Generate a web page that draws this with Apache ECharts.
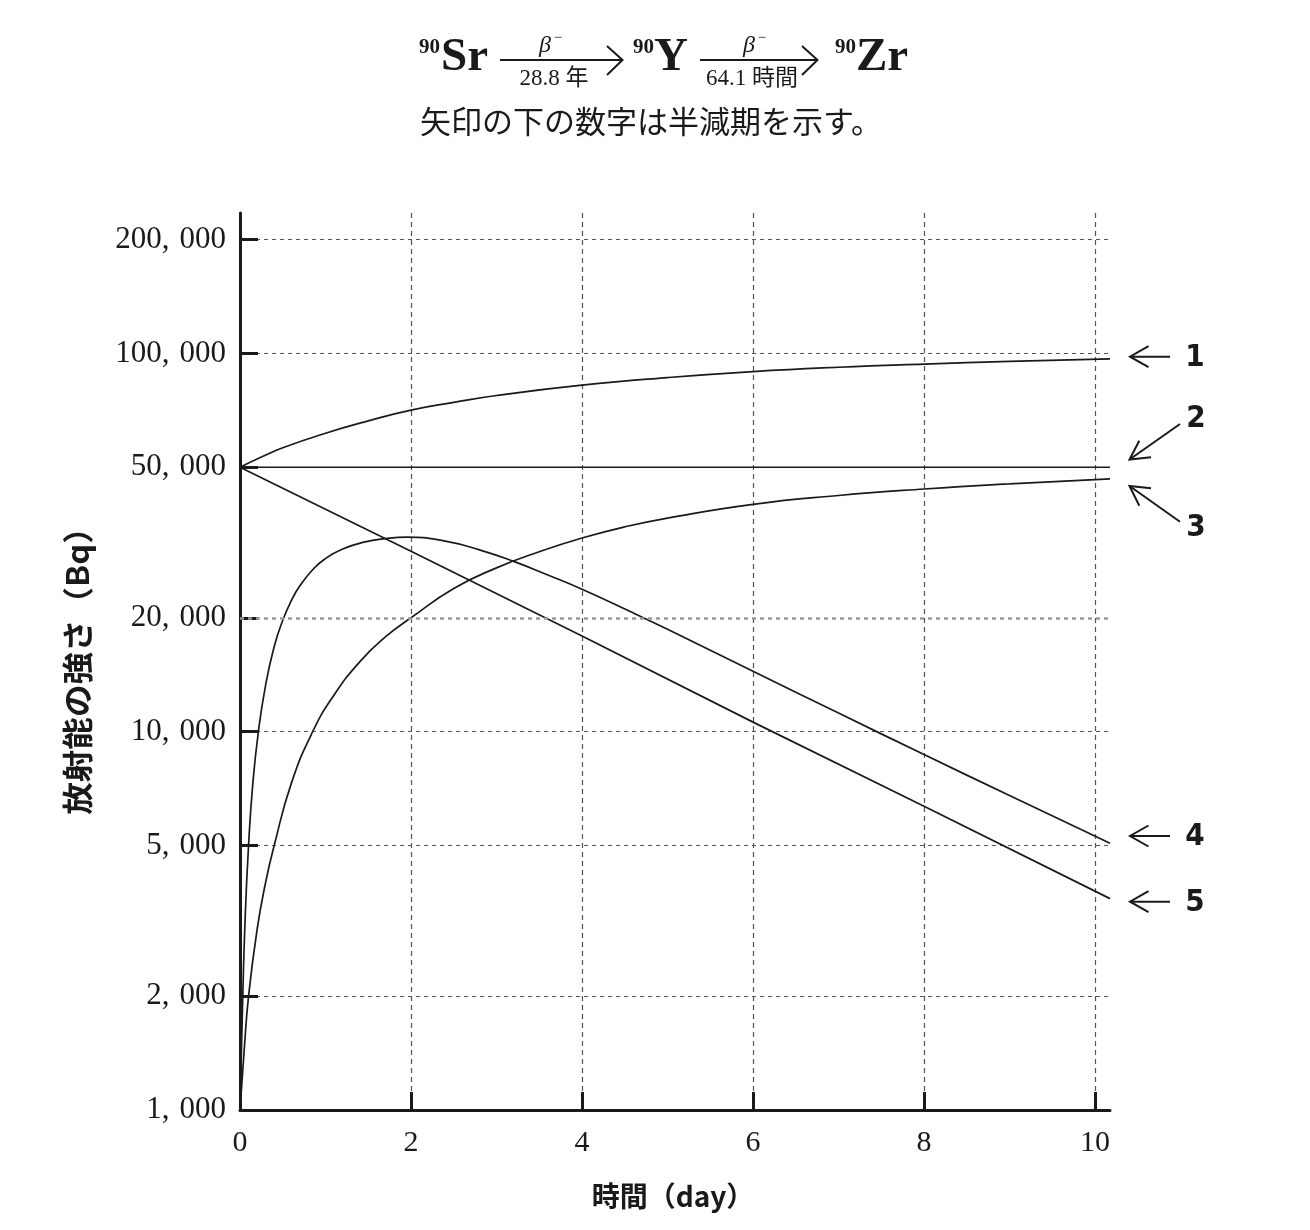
<!DOCTYPE html>
<html><head><meta charset="utf-8">
<script src="https://cdn.jsdelivr.net/npm/echarts@6/dist/echarts.min.js"></script>
<style>html,body{margin:0;padding:0;background:#fff}#c{width:1310px;height:1230px}</style>
</head><body><div id="c"></div>
<script>
// ---- data ----
const yTickValues = [1000, 2000, 5000, 10000, 20000, 50000, 100000, 200000];
const yTickLabels = ['1,000', '2,000', '5,000', '10,000', '20,000', '50,000', '100,000', '200,000'];
const xLabelValues = [0, 2, 4, 6, 8, 10];
const xTickValues = [2, 4, 6, 8, 10];

// curve 1 (rising toward 100,000)
const days1 = [0, 0.25, 0.5, 1, 1.5, 2, 2.5, 3, 4, 5, 6, 7, 8, 9, 10.175];
const curve1 = [50000, 53200, 56300, 61500, 66300, 70800, 74200, 77400, 82400, 86300, 89500, 91900, 93700, 95200, 96700];
// curve 2 (flat 50,000)
const days2 = [0, 10.175];
const curve2 = [50000, 50000];
// curve 3 (ingrowth toward 50,000)
const days3 = [0, 0.05, 0.1, 0.2, 0.3, 0.4, 0.6, 0.85, 1.1, 1.4, 1.7, 2.0, 2.5, 3.0, 3.5, 4.0, 4.5, 5.0, 6.0, 7.0, 8.0, 9.0, 10.175];
const curve3 = [1000, 1450, 2000, 3000, 4000, 5000, 7300, 10000, 12500, 15300, 17800, 20000, 23900, 27100, 29900, 32500, 34800, 36700, 39900, 42100, 43800, 45200, 46600];
// curve 4 (hump)
const days4 = [0, 0.03, 0.06, 0.1, 0.15, 0.215, 0.3, 0.4, 0.5, 0.6, 0.7, 0.85, 1.0, 1.2, 1.45, 1.7, 1.95, 2.4, 2.8, 3.2, 3.6, 4.0, 4.57, 5.0, 6.0, 7.0, 8.0, 9.0, 10.175];
const curve4 = [1000, 1900, 3200, 5000, 7300, 10000, 13300, 16800, 19700, 22200, 24300, 26800, 28700, 30400, 31700, 32400, 32700, 31900, 30250, 28200, 25950, 23800, 20750, 18650, 14450, 11200, 8700, 6780, 5070];
// curve 5 (straight decay)
const days5 = [0, 2, 4, 6, 8, 10.175];
const curve5 = [50000, 30000, 17900, 10600, 6350, 3620];

const curveLabels = ['1', '2', '3', '4', '5'];

function zip(xs, ys) { return xs.map((x, i) => [x, ys[i]]); }

const INK = '#1a1a1a';
const SERIF = "'Liberation Serif', 'Noto Sans CJK JP', serif";
const CJK = "'Noto Sans CJK JP', sans-serif";
const NARROW = "'Liberation Sans Narrow', 'DejaVu Sans Condensed', sans-serif";

function lineSeries(name, data, smooth) {
  return {
    name, type: 'line', data, showSymbol: false, symbol: 'none',
    smooth: smooth ? 0.5 : false,
    lineStyle: { color: INK, width: 1.7 }, z: 3, silent: true
  };
}

const chart = echarts.init(document.getElementById('c'), null, { renderer: 'canvas' });

function seg(points) {
  return { type: 'polyline', shape: { points }, style: { stroke: INK, lineWidth: 2, fill: null } };
}
function arrowH(y) {
  return [seg([[1170, y], [1130, y]]), seg([[1148.5, y - 10.5], [1130, y], [1148.5, y + 10.5]])];
}
function arrowD(tail, tip, a1, a2) {
  return [seg([tail, tip]), seg([a1, tip, a2])];
}
function txt(text, x, y, font, align, extra) {
  return Object.assign({ type: 'text', x, y, style: { text, font, fill: INK, align: align || 'center', verticalAlign: 'middle' } }, extra || {});
}

const graphics = [
  // title formula
  txt('90', 440, 48, 'bold 21px ' + SERIF, 'right'),
  txt('Sr', 441, 58, 'bold 47px ' + SERIF, 'left'),
  seg([[500, 60], [622, 60]]),
  seg([[607, 46], [622.5, 60], [607, 75]]),
  txt('β', 545, 46, 'italic 24px ' + SERIF, 'center'),
  txt('−', 558, 38, '15px ' + SERIF, 'center'),
  txt('28.8 年', 554, 79, '23px ' + SERIF, 'center'),
  txt('90', 654, 48, 'bold 21px ' + SERIF, 'right'),
  txt('Y', 654, 58, 'bold 47px ' + SERIF, 'left'),
  seg([[700, 60], [817, 60]]),
  seg([[802, 46], [817.5, 60], [802, 75]]),
  txt('β', 749, 46, 'italic 24px ' + SERIF, 'center'),
  txt('−', 762, 38, '15px ' + SERIF, 'center'),
  txt('64.1 時間', 752, 79, '23px ' + SERIF, 'center'),
  txt('90', 856, 48, 'bold 21px ' + SERIF, 'right'),
  txt('Zr', 856, 58, 'bold 47px ' + SERIF, 'left'),
  txt('矢印の下の数字は半減期を示す。', 651, 121, '31px ' + CJK, 'center'),
  // axis names
  txt('放射能の強さ（Bq）', 77, 663, 'bold 31px ' + CJK, 'center', { rotation: Math.PI / 2, scaleX: 1.05 }),
  txt('時間（day）', 673, 1196, 'bold 28px ' + CJK, 'center'),
  // right-side annotations
  ...arrowH(356.7),
  ...arrowD([1180, 424], [1129.5, 459.5], [1139.3, 440.7], [1151, 457.3]),
  ...arrowD([1180, 521.7], [1129.5, 486], [1139.3, 505.7], [1151, 488.3]),
  ...arrowH(836),
  ...arrowH(901.7),
  txt(curveLabels[0], 1195, 358, 'bold 31px ' + NARROW),
  txt(curveLabels[1], 1196, 419, 'bold 31px ' + NARROW),
  txt(curveLabels[2], 1196, 528, 'bold 31px ' + NARROW),
  txt(curveLabels[3], 1195, 837, 'bold 31px ' + NARROW),
  txt(curveLabels[4], 1195, 903, 'bold 31px ' + NARROW)
];

const option = {
  animation: false,
  backgroundColor: '#fff',
  grid: { left: 240, right: 200, top: 213, bottom: 120, containLabel: false },
  xAxis: {
    type: 'value', min: 0, max: 10.175,
    axisLine: { show: true, onZero: false, lineStyle: { color: INK, width: 3 } },
    axisTick: { show: true, inside: true, length: 18, customValues: xTickValues, lineStyle: { color: INK, width: 3 } },
    axisLabel: { customValues: xLabelValues, color: INK, fontFamily: SERIF, fontSize: 30, margin: 18 },
    splitLine: { show: true, lineStyle: { color: '#555', width: 1.2, type: [5, 4] } },
    minorTick: { show: false }
  },
  yAxis: {
    type: 'log', logBase: 10, min: 1000, max: 235000,
    axisLine: { show: true, onZero: false, lineStyle: { color: INK, width: 3 } },
    axisTick: { show: true, inside: true, length: 18, customValues: yTickValues, lineStyle: { color: INK, width: 3 } },
    axisLabel: {
      customValues: yTickValues, margin: 14, color: INK,
      formatter: function (v) {
        const i = yTickValues.findIndex(t => Math.abs(t - v) / t < 1e-6);
        const s = i >= 0 ? yTickLabels[i] : String(v);
        const k = s.indexOf(',');
        return '{a|' + s.slice(0, k + 1) + '}{b|' + s.slice(k + 1) + '}';
      },
      rich: {
        a: { fontFamily: SERIF, fontSize: 31, color: INK, padding: [0, 10, 0, 0] },
        b: { fontFamily: SERIF, fontSize: 31, color: INK }
      }
    },
    splitLine: { show: true, lineStyle: { color: '#555', width: 1, type: [4, 4] } },
    minorTick: { show: false }
  },
  series: [
    {
      type: 'line', data: [], z: 1, silent: true,
      markLine: {
        silent: true, symbol: 'none', label: { show: false },
        lineStyle: { color: '#9a9a9a', width: 2.5, type: [4, 4] },
        data: [{ yAxis: yTickValues[4] }]
      }
    },
    lineSeries('1', zip(days1, curve1), true),
    lineSeries('2', zip(days2, curve2), false),
    lineSeries('3', zip(days3, curve3), true),
    lineSeries('4', zip(days4, curve4), true),
    lineSeries('5', zip(days5, curve5), false)
  ],
  graphic: graphics
};
chart.setOption(option);
</script></body></html>
